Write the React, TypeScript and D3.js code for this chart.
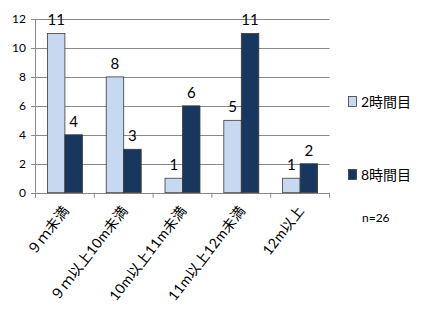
import React from "react";
import * as d3 from "d3";

const categories = ["９ｍ未満", "９ｍ以上10m未満", "10m以上11m未満", "11m以上12m未満", "12m以上"];
const series2h = [11, 8, 1, 5, 1];
const series8h = [4, 3, 6, 11, 2];
const seriesNames = ["2時間目", "8時間目"];
const yTicks = [0, 2, 4, 6, 8, 10, 12];

const W = 427;
const H = 324;
const FONT = "Lato, 'Noto Sans CJK JP', sans-serif";

export default function App() {
  const x = d3.scaleBand<string>().domain(categories).range([35.5, 329.5]).paddingInner(0).paddingOuter(0);
  const x1 = d3.scaleBand<number>().domain([0, 1]).range([0, x.bandwidth()]).paddingInner(0).paddingOuter(0.68);
  const y = d3.scaleLinear().domain([0, 12]).range([192.7, 19]);
  const colors = ["#C6D9F1", "#17375E"];
  const data = [series2h, series8h];

  return (
    <div style={{ margin: "-8px" }}>
      <svg width={W} height={H} style={{ display: "block", fontFamily: FONT }}>
        <rect x={0.5} y={0.5} width={W - 1} height={H - 1} rx={4} fill="#fff" stroke="#8c8c8c" />
        {yTicks.map((t) => (
          <g key={t}>
            <line x1={31} x2={329.5} y1={Math.round(y(t)) + 0.5} y2={Math.round(y(t)) + 0.5} stroke="#8a8a8a" strokeWidth={1} />
            <text x={26} y={y(t)} dy="0.35em" textAnchor="end" fontSize={12} fill="#000">{t}</text>
          </g>
        ))}
        <line x1={35.5} x2={35.5} y1={y(12)} y2={y(0)} stroke="#8a8a8a" />
        {d3.range(categories.length + 1).map((i) => {
          const xx = i < categories.length ? x(categories[i])! : x.range()[1];
          return <line key={i} x1={xx} x2={xx} y1={y(0)} y2={y(0) + 5} stroke="#8a8a8a" />;
        })}
        {categories.map((c, ci) => (
          <g key={c}>
            {data.map((s, si) => {
              const bx = x(c)! + x1(si)!;
              const v = s[ci];
              return (
                <g key={si}>
                  <rect x={bx} y={y(v)} width={x1.bandwidth()} height={y(0) - y(v)} fill={colors[si]} stroke="#3a3a3a" strokeWidth={0.8} />
                  <text x={bx + x1.bandwidth() / 2} y={y(v) - 8} textAnchor="middle" fontSize={15} fill="#000">{v}</text>
                </g>
              );
            })}
            <text
              transform={`translate(${x(c)! + x.bandwidth() / 2 + 1},${y(0) + 15}) rotate(-52)`}
              textAnchor="end"
              fontSize={14}
              letterSpacing={0.4}
              fill="#000"
              dy="0.35em"
            >
              {c}
            </text>
          </g>
        ))}
        {seriesNames.map((n, i) => {
          const ly = i === 0 ? 102 : 175;
          return (
            <g key={n}>
              <rect x={348.5} y={ly - 5.5} width={8} height={10} fill={colors[i]} stroke="#3a3a3a" strokeWidth={0.8} />
              <text x={361} y={ly} dy="0.35em" fontSize={14} fill="#000">{n}</text>
            </g>
          );
        })}
        <text x={362} y={222} fontSize={12} fill="#000">n=26</text>
      </svg>
    </div>
  );
}
